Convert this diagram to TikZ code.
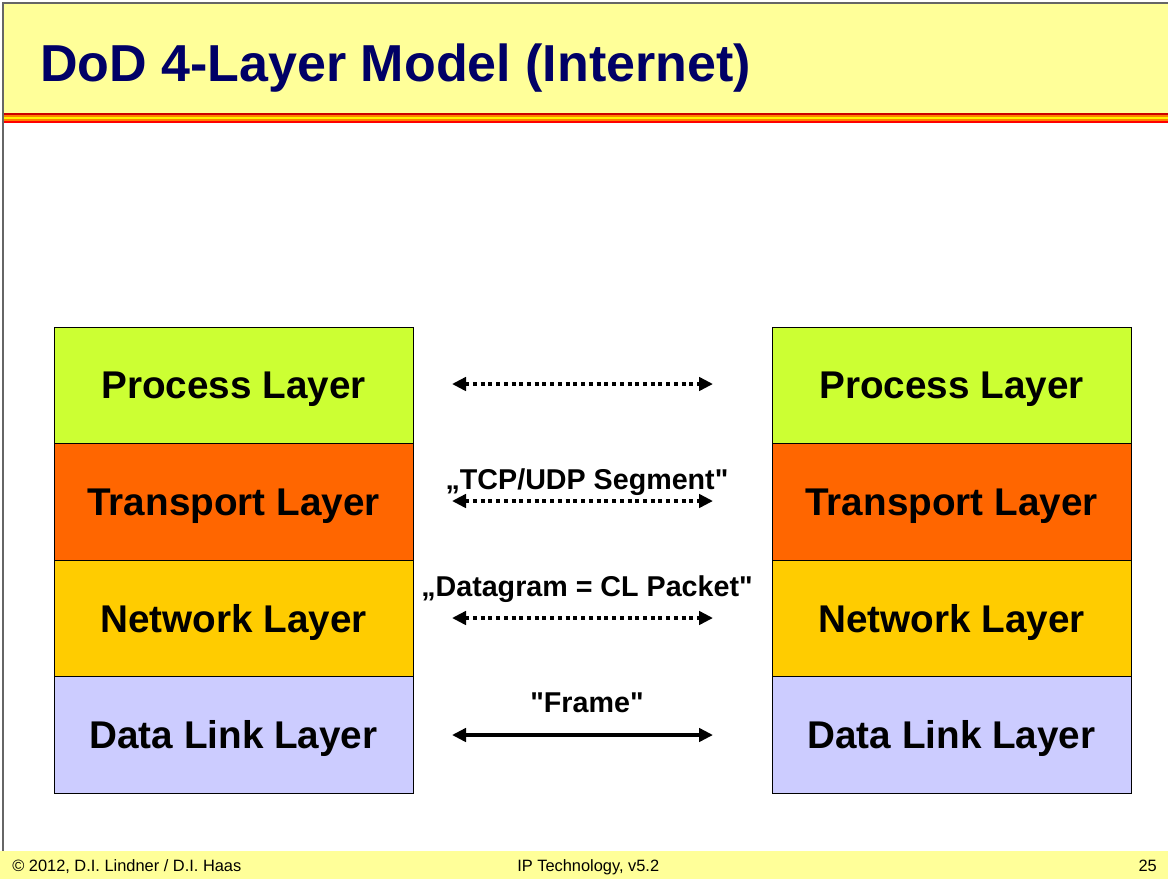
\documentclass[tikz,border=0pt]{standalone}
\usepackage{fontspec}
\setmainfont{Liberation Sans}
\usepackage{tikz}
\usetikzlibrary{arrows.meta}
\definecolor{titlebg}{HTML}{FFFF99}
\definecolor{titleblue}{HTML}{000066}
\definecolor{proc}{HTML}{CCFF33}
\definecolor{trans}{HTML}{FF6600}
\definecolor{netw}{HTML}{FFCC00}
\definecolor{dlink}{HTML}{CCCCFF}
\tikzstyle{layer} = [draw=black, line width=0.6pt, minimum width=269.25pt, minimum height=87.4pt, inner sep=0pt, text depth=0pt, font=\fontsize{29}{34}\selectfont\bfseries]
\tikzstyle{pdu} = [text depth=0pt, font=\fontsize{21.5}{25}\selectfont\bfseries]
\tikzstyle{peer} = [line width=3pt, {Triangle[length=10.5pt,width=10pt]}-{Triangle[length=10.5pt,width=10pt]}]
\tikzstyle{foot} = [font=\fontsize{12.3}{14}\selectfont, anchor=base west, inner sep=0pt]

\begin{document}
\begin{tikzpicture}[x=0.75pt,y=-0.75pt]
	\useasboundingbox (0,0) rectangle (1168,879);
	\fill[white] (0,0) rectangle (1168,879);

	% title bar
	\fill[titlebg] (3,3) rectangle (1168,113);
	\fill[red!80!black] (3,113) rectangle (1168,115);
	\fill[orange] (3,115) rectangle (1168,117);
	\fill[yellow] (3,117) rectangle (1168,119);
	\fill[orange] (3,119) rectangle (1168,121);
	\fill[red] (3,121) rectangle (1168,123);
	\draw[gray!80!black, line width=2pt] (3,851) -- (3,3) -- (1168,3);
	\node (title) [anchor=base west, inner sep=0pt, text=titleblue,
		font=\fontsize{39}{46}\selectfont\bfseries] at (40,81) {DoD 4-Layer Model (Internet)};

	% footer
	\fill[titlebg] (0,851) rectangle (1168,879);
	\node (copy) [foot] at (12,871) {\textcopyright\ 2012, D.I. Lindner / D.I. Haas};
	\node (ipt) [foot] at (517,871) {IP Technology, v5.2};
	\node (page) [foot, anchor=base east] at (1157,871) {25};

	% the two stacks
	\foreach \n/\c/\t [count=\i] in {p/proc/Process Layer, t/trans/Transport Layer,
		n/netw/Network Layer, d/dlink/Data Link Layer} {
		\node (l\n) [layer, fill=\c] at (233.5,{327+(\i-0.5)*116.5}) {\t};
		\node (r\n) [layer, fill=\c] at (951.5,{327+(\i-0.5)*116.5}) {\t};
		\coordinate (a\n) at (452,{384+(\i-1)*117});
		\coordinate (b\n) at (713,{384+(\i-1)*117});
	}

	% peer to peer
	\draw[peer, dash pattern=on 3pt off 2.8pt] (ap) -- (bp);
	\draw[peer, dash pattern=on 3pt off 2.8pt] (at) -- (bt);
	\draw[peer, dash pattern=on 3pt off 2.8pt] (an) -- (bn);
	\draw[peer] (ad) -- (bd);

	\node (seg) [pdu] at (587,479) {„TCP/UDP Segment\textquotedbl};
	\node (dgr) [pdu] at (587,586) {„Datagram = CL Packet\textquotedbl};
	\node (frm) [pdu] at (587,703) {\textquotedbl Frame\textquotedbl};

\end{tikzpicture}
\end{document}
